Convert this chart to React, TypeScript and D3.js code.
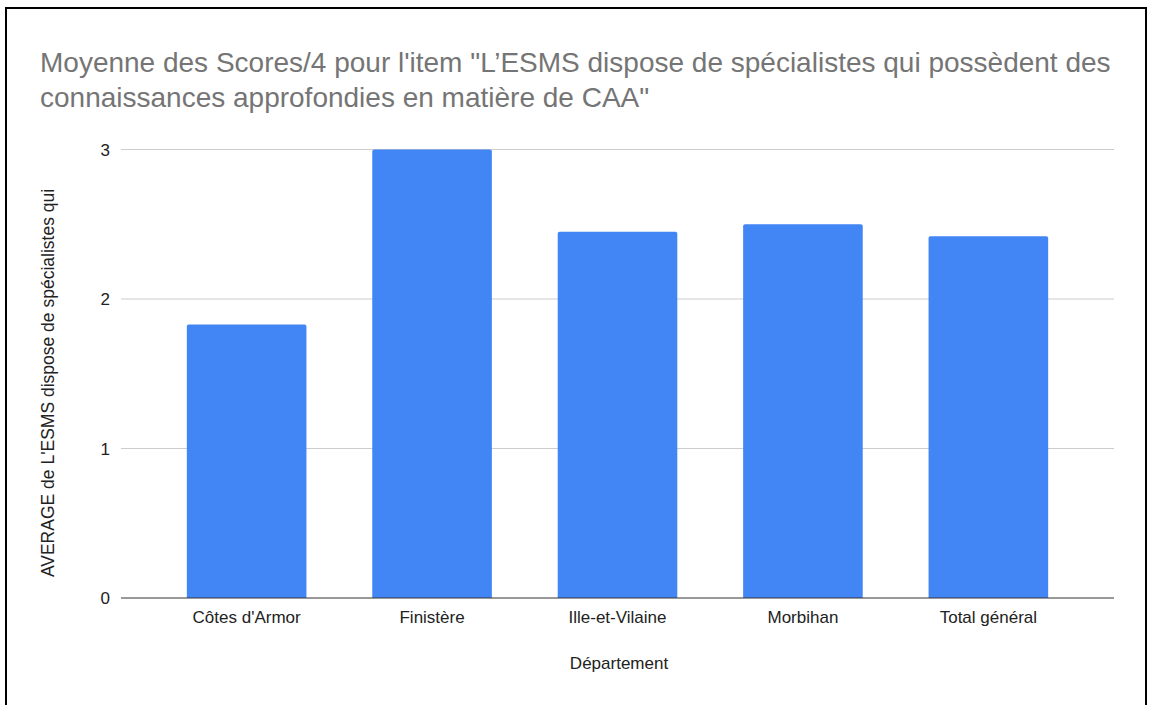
import React from "react";
import * as d3 from "d3";

const categories = ["Côtes d'Armor", "Finistère", "Ille-et-Vilaine", "Morbihan", "Total général"];
const values = [1.83, 3.0, 2.45, 2.5, 2.42];
const yTicks = [0, 1, 2, 3];
const titleLines = [
  "Moyenne des Scores/4 pour l'item \"L’ESMS dispose de spécialistes qui possèdent des",
  "connaissances approfondies en matière de CAA\"",
];
const yAxisTitle = "AVERAGE de L'ESMS dispose de spécialistes qui";
const xAxisTitle = "Département";

const W = 1149;
const H = 705;
const FONT = "'Liberation Sans', Arial, sans-serif";

export default function App() {
  const x = d3.scaleBand<string>().domain(categories).range([121, 1114]).paddingInner(0.355).paddingOuter(0.355);
  const y = d3.scaleLinear().domain([0, 3]).range([598, 149.5]);
  const r = 2;
  const barPath = (v: number, c: string) => {
    const x0 = x(c)!;
    const w = x.bandwidth();
    const yt = y(v);
    const yb = y(0);
    return `M${x0},${yb}V${yt + r}Q${x0},${yt} ${x0 + r},${yt}H${x0 + w - r}Q${x0 + w},${yt} ${x0 + w},${yt + r}V${yb}Z`;
  };
  return (
    <div style={{ position: "absolute", left: 0, top: 0 }}>
      <svg width={W} height={H} style={{ display: "block", background: "#fff" }}>
        <rect x={0} y={0} width={W} height={H} fill="#fff" />
        <rect x={6} y={8} width={1140} height={720} fill="none" stroke="#000" strokeWidth={2} />
        {titleLines.map((t, i) => (
          <text key={i} x={40} y={72 + i * 35} fontFamily={FONT} fontSize={28} fill="#757575">
            {t}
          </text>
        ))}
        {yTicks.filter((t) => t > 0).map((t) => (
          <line key={t} x1={121} x2={1114} y1={y(t)} y2={y(t)} stroke="#cccccc" strokeWidth={1} />
        ))}
        {yTicks.map((t) => (
          <text key={"l" + t} x={110} y={y(t) + 6} textAnchor="end" fontFamily={FONT} fontSize={17} fill="#222">
            {t}
          </text>
        ))}
        {categories.map((c, i) => (
          <path key={c} d={barPath(values[i], c)} fill="#4285f4" />
        ))}
        <line x1={121} x2={1114} y1={y(0)} y2={y(0)} stroke="#333" strokeWidth={1} />
        {categories.map((c) => (
          <text key={"x" + c} x={x(c)! + x.bandwidth() / 2} y={623} textAnchor="middle" fontFamily={FONT} fontSize={17} fill="#222">
            {c}
          </text>
        ))}
        <text x={619} y={669} textAnchor="middle" fontFamily={FONT} fontSize={17} fill="#222">
          {xAxisTitle}
        </text>
        <text transform={`translate(54,${383}) rotate(-90)`} textAnchor="middle" fontFamily={FONT} fontSize={17.5} fill="#222">
          {yAxisTitle}
        </text>
      </svg>
    </div>
  );
}
